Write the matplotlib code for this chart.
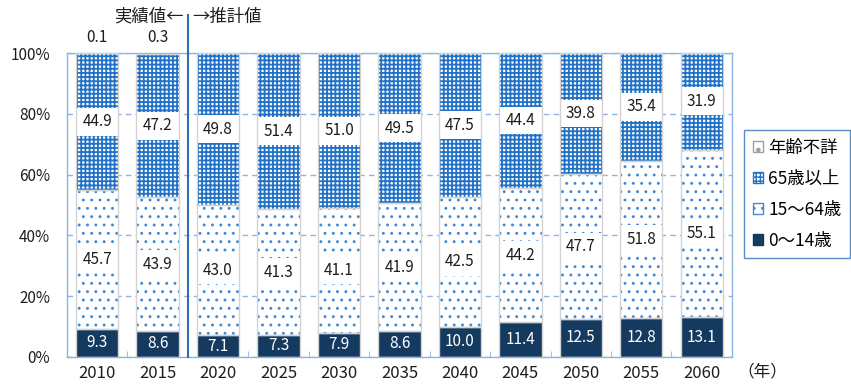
import numpy as np
import matplotlib
matplotlib.use("Agg")
import matplotlib.pyplot as plt
import matplotlib.patches as mpatches
from matplotlib.ticker import FixedLocator

plt.rcParams["font.family"] = ["Noto Sans CJK JP", "DejaVu Sans"]

# population share by age group (%)
years = ["2010", "2015", "2020", "2025", "2030", "2035", "2040", "2045", "2050", "2055", "2060"]
age_0_14 = [9.3, 8.6, 7.1, 7.3, 7.9, 8.6, 10.0, 11.4, 12.5, 12.8, 13.1]
age_15_64 = [45.7, 43.9, 43.0, 41.3, 41.1, 41.9, 42.5, 44.2, 47.7, 51.8, 55.1]
age_65_over = [44.9, 47.2, 49.8, 51.4, 51.0, 49.5, 47.5, 44.4, 39.8, 35.4, 31.9]
age_unknown = [0.1, 0.3, 0.0, 0.0, 0.0, 0.0, 0.0, 0.0, 0.0, 0.0, 0.0]
series_names = ["0～14歳", "15～64歳", "65歳以上", "年齢不詳"]
y_ticks = [0, 20, 40, 60, 80, 100]
y_tick_labels = ["0%", "20%", "40%", "60%", "80%", "100%"]

NAVY = "#153A60"
CHECK_BLUE = "#2172C6"
DOT_BLUE = "#3E8AD6"
FRAME = "#8DB3E2"
EDGE = "#D3D3D3"
TEXT = "#1E1E1E"

DOT_HATCH = ".."
CHECK_HATCH = "++++"
DOT_LW = 0.9
CHECK_LW = 1.3

fig = plt.figure(figsize=(8.51, 3.88), dpi=100)
ax = fig.add_axes([0.0787, 0.0799, 0.7814, 0.7835])

x = np.arange(len(years))
width = 0.7
young = np.array(age_0_14)
working = np.array(age_15_64)
elderly = np.array(age_65_over)
unknown = np.array(age_unknown)

b1 = young
b2 = young + working
b3 = young + working + elderly

# filled / hatched segments
ax.bar(x, young, width, color=NAVY, linewidth=0, zorder=2)
with plt.rc_context({"hatch.linewidth": DOT_LW}):
    ax.bar(x, working, width, bottom=b1, facecolor="white", edgecolor=DOT_BLUE,
           hatch=DOT_HATCH, linewidth=0, zorder=2)
    ax.bar(x, unknown, width, bottom=b3, facecolor="white", edgecolor="#A0A0A0",
           hatch=".", linewidth=0, zorder=2)
with plt.rc_context({"hatch.linewidth": CHECK_LW}):
    ax.bar(x, elderly, width, bottom=b2, facecolor="white", edgecolor=CHECK_BLUE,
           hatch=CHECK_HATCH, linewidth=0, zorder=2)

# white label boxes inside the two middle segments
box_h = 9.2
mid_work = b1 + working / 2
mid_old = b2 + elderly / 2
ax.bar(x, box_h, width, bottom=mid_work - box_h / 2, color="white", linewidth=0, zorder=3)
ax.bar(x, box_h, width, bottom=mid_old - box_h / 2, color="white", linewidth=0, zorder=3)

# segment outlines
for vals, bot in [(young, None), (working, b1), (elderly, b2)]:
    ax.bar(x, vals, width, bottom=bot, fill=False, edgecolor=EDGE, linewidth=1.0, zorder=4)

lab_fs = 11
for i in range(len(x)):
    ax.text(x[i], young[i] / 2, f"{young[i]:.1f}", ha="center", va="center",
            color="white", fontsize=lab_fs, zorder=5)
    ax.text(x[i], mid_work[i], f"{working[i]:.1f}", ha="center", va="center",
            color=TEXT, fontsize=lab_fs, zorder=5)
    ax.text(x[i], mid_old[i], f"{elderly[i]:.1f}", ha="center", va="center",
            color=TEXT, fontsize=lab_fs, zorder=5)
    if unknown[i] > 0:
        ax.annotate(f"{unknown[i]:.1f}", xy=(x[i], b3[i] + unknown[i]), xytext=(0, 5),
                    textcoords="offset points", ha="center", va="bottom",
                    color=TEXT, fontsize=lab_fs, annotation_clip=False)

ax.set_xlim(-0.5, len(x) - 0.5)
ax.set_ylim(0, 100)

for s in ax.spines.values():
    s.set_color(FRAME)
    s.set_linewidth(1.0)

ax.set_yticks(y_ticks)
ax.set_yticklabels(y_tick_labels)
ax.tick_params(axis="y", direction="in", length=3, color=FRAME, pad=12,
               labelsize=11, labelcolor=TEXT)
ax.set_xticks(x)
ax.set_xticklabels(years)
ax.tick_params(axis="x", which="major", length=0, pad=6, labelsize=12, labelcolor=TEXT)
ax.xaxis.set_minor_locator(FixedLocator(np.arange(0.5, len(x) - 1, 1.0)))
ax.tick_params(axis="x", which="minor", direction="in", length=4, color=FRAME)

ax.yaxis.grid(True, color=FRAME, linestyle=(0, (4, 3)), linewidth=1.0, zorder=0)
ax.set_axisbelow(True)

# boundary between observed and projected values
ax.axvline(1.5, ymin=0, ymax=1.125, color="#2E6FB5", linewidth=1.5, clip_on=False, zorder=6)
ax.text(1.43, 112, "実績値←", ha="right", va="center", fontsize=12.5, color=TEXT)
ax.text(1.57, 112, "→推計値", ha="left", va="center", fontsize=12.5, color=TEXT)

fig.text(737 / 851, 1 - 372 / 388, "（年）", ha="left", va="center", fontsize=12, color=TEXT)

with plt.rc_context({"hatch.linewidth": DOT_LW}):
    h_unknown = mpatches.Patch(facecolor="white", edgecolor="#A0A0A0", hatch=".",
                               label=series_names[3])
    h_working = mpatches.Patch(facecolor="white", edgecolor=DOT_BLUE, hatch=DOT_HATCH,
                               label=series_names[1])
with plt.rc_context({"hatch.linewidth": CHECK_LW}):
    h_elderly = mpatches.Patch(facecolor="white", edgecolor=CHECK_BLUE, hatch=CHECK_HATCH,
                               label=series_names[2])
h_young = mpatches.Patch(facecolor=NAVY, edgecolor=NAVY, label=series_names[0])
handles = [h_unknown, h_elderly, h_working, h_young]
leg = fig.legend(handles=handles, loc="upper left", bbox_to_anchor=(744 / 851, 1 - 130 / 388),
                 fontsize=12.5, frameon=True, fancybox=False, handlelength=0.6,
                 handleheight=0.6, handletextpad=0.3, labelspacing=0.75,
                 borderpad=0.5, borderaxespad=0)
leg.get_frame().set_edgecolor("#2E6FB5")
leg.get_frame().set_linewidth(1.0)

fig.savefig("out.png", dpi=100)
